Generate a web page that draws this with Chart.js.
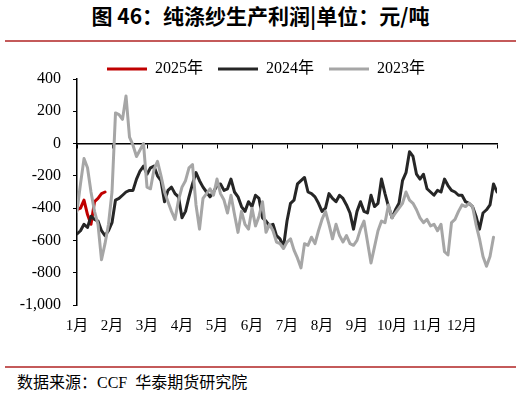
<!DOCTYPE html>
<html>
<head>
<meta charset="utf-8">
<script src="https://cdn.jsdelivr.net/npm/chart.js@4.4.1/dist/chart.umd.min.js"></script>
<style>
  html, body { margin: 0; padding: 0; background: #fff; }
  #wrap { position: relative; width: 521px; height: 396px; overflow: hidden; background: #fff; }
  .title { position: absolute; top: 2px; left: 0; width: 521px; text-align: center; font: bold 21px/26px "Noto Sans CJK SC", sans-serif; color: #000; }
  .rule { position: absolute; left: 5px; width: 511px; height: 2px; background: #c45a5a; }
  .src { position: absolute; left: 17px; top: 372px; font: 16px/22px "Liberation Serif", "Noto Sans CJK SC", serif; color: #000; }
  #box { position: absolute; left: 0; top: 40px; width: 521px; height: 310px; }
</style>
</head>
<body>
<div id="wrap">
  <div class="title">图 46：纯涤纱生产利润|单位：元/吨</div>
  <div class="rule" style="top:40px"></div>
  <div id="box"><canvas id="chart"></canvas></div>
  <div class="rule" style="top:366px"></div>
  <div class="src">数据来源：CCF&nbsp; 华泰期货研究院</div>
</div>
<script>
// x axis: 10 slots per month, slot 0 = start of January
const months = ['1月', '2月', '3月', '4月', '5月', '6月', '7月', '8月', '9月', '10月', '11月', '12月'];
const yTicks = [-1000, -800, -600, -400, -200, 0, 200, 400];

const y2025 = [-410, -400, -350, -440, -500, -360, -340, -310, -300];

const y2024 = [
  -560, -540, -500, -520, -450, -470, -480, -540, -570, -540,
  -490, -350, -340, -320, -300, -290, -290, -220, -170, -140,
  -190, -150, -140, -200, -230, -360, -290, -270, -310, -330,
  -460, -420, -330, -250, -180, -230, -270, -300, -330, -300,
  -260, -250, -290, -280, -220, -300, -330, -390, -420, -360,
  -390, -320, -340, -460, -480, -510, -500, -570, -590, -640,
  -480, -370, -350, -250, -230, -210, -300, -310, -330, -370,
  -420, -400, -310, -340, -360, -320, -340, -380, -430, -530,
  -420, -360, -420, -430, -320, -390, -370, -220, -310, -390,
  -460, -410, -370, -230, -180, -50, -80, -190, -220, -190,
  -280, -300, -320, -290, -300, -220, -260, -290, -300, -320,
  -320, -360, -370, -390, -450, -530, -430, -410, -380, -250,
  -300
];

const y2023 = [
  -420, -250, -93, -150, -300, -420, -500, -720, -620, -500,
  -300, 190, 180, 150, 295, 40, -10, -80, -40, 0,
  -270, -280, -160, -110, -200, -300, -360, -420, -470, -350,
  -270, -230, -150, -130, -380, -530, -340, -310, -280, -320,
  -220, -310, -350, -430, -320, -440, -550, -420, -500, -530,
  -400, -510, -450, -360, -550, -500, -540, -610, -620, -650,
  -610, -590, -660, -710, -770, -620, -630, -580, -620, -540,
  -470, -420, -500, -590, -500, -570, -610, -570, -620, -630,
  -600, -530, -480, -610, -740, -640, -540, -480, -490, -380,
  -460, -430, -400, -370, -300, -350, -370, -410, -460, -490,
  -470, -510, -500, -540, -500, -670, -690, -490, -470, -420,
  -380, -390, -370, -390, -500, -590, -700, -760, -700, -580
];

const SERIF = "'Liberation Serif', 'Noto Sans CJK SC', serif";
const pts = arr => arr.map((v, i) => ({ x: i, y: v }));
const monthTicks = s => { s.ticks = months.map((m, i) => ({ value: i * 10 })).concat({ value: months.length * 10 }); };

new Chart(document.getElementById('chart'), {
  type: 'line',
  data: {
    datasets: [
      { label: '2025年', data: pts(y2025), borderColor: '#c00000', backgroundColor: '#c00000', order: 3 },
      { label: '2024年', data: pts(y2024), borderColor: '#262626', backgroundColor: '#262626', order: 2 },
      { label: '2023年', data: pts(y2023), borderColor: '#a6a6a6', backgroundColor: '#a6a6a6', order: 1 },
    ]
  },
  options: {
    responsive: true, maintainAspectRatio: false, animation: false,
    layout: { padding: { left: 11, right: 0, top: 6, bottom: 0 } },
    elements: {
      line: { borderWidth: 3, tension: 0, borderJoinStyle: 'round', borderCapStyle: 'round' },
      point: { radius: 0 }
    },
    plugins: {
      legend: {
        position: 'top', reverse: true, maxHeight: 33,
        labels: {
          boxWidth: 40, boxHeight: 3, padding: 15, color: '#000',
          font: { family: SERIF, size: 16 },
          generateLabels: c => Chart.defaults.plugins.legend.labels.generateLabels(c).map(l => ({ ...l, lineWidth: 0 }))
        }
      },
      tooltip: { enabled: false }
    },
    scales: {
      x: {
        type: 'linear', min: 0, max: 120,
        afterBuildTicks: monthTicks,
        ticks: { autoSkip: false, maxRotation: 0, padding: 12, color: '#000', font: { family: SERIF, size: 15 },
          callback: (v, i) => months[i] ?? '' },
        grid: { display: false, drawTicks: false },
        border: { display: false },
        afterFit: s => { s.height = 45; }
      },
      x0: {
        type: 'linear', axis: 'x', position: { y: 0 }, min: 0, max: 120,
        afterBuildTicks: monthTicks,
        ticks: { callback: () => '' },
        grid: { drawOnChartArea: false, tickLength: 4, color: '#000', lineWidth: 1 },
        border: { color: '#000', width: 1.5 }
      },
      y: {
        min: -1000, max: 400,
        afterBuildTicks: s => { s.ticks = yTicks.map(v => ({ value: v })); },
        ticks: { padding: 12, color: '#000', font: { family: SERIF, size: 16 },
          callback: v => v.toLocaleString('en-US') },
        grid: { drawOnChartArea: false, tickLength: 4, color: '#000' },
        border: { color: '#000', width: 1.5 },
        afterFit: s => { s.width = 66; }
      },
      // empty right-hand margin so the plot ends where the reference does
      yRight: {
        position: 'right',
        ticks: { display: false },
        grid: { display: false, drawTicks: false },
        border: { display: false },
        afterFit: s => { s.width = 24; }
      }
    }
  }
});
</script>
</body>
</html>
